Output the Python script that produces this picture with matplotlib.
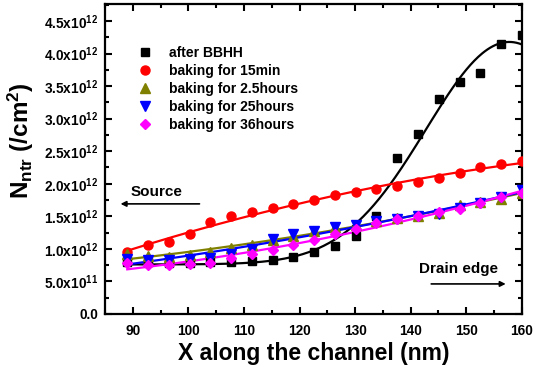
import matplotlib
matplotlib.use("Agg")
import matplotlib.pyplot as plt
from matplotlib.ticker import MultipleLocator, FuncFormatter
import numpy as np

plt.rcParams["font.family"] = ["Liberation Sans", "DejaVu Sans"]
plt.rcParams["font.weight"] = "bold"
plt.rcParams["mathtext.fontset"] = "custom"
plt.rcParams["mathtext.rm"] = "Liberation Sans:bold"
plt.rcParams["mathtext.bf"] = "Liberation Sans:bold"
plt.rcParams["mathtext.it"] = "Liberation Sans:bold"
plt.rcParams["mathtext.default"] = "bf"

# position along the channel (nm)
x_nm = np.linspace(89, 160, 20)

# trap density, units of 1e12 /cm^2
after_bbhh = [0.80, 0.79, 0.78, 0.78, 0.79, 0.79, 0.81, 0.83, 0.875, 0.95,
              1.05, 1.20, 1.51, 2.39, 2.77, 3.30, 3.57, 3.70, 4.14, 4.29]
bake_15min = [0.95, 1.06, 1.10, 1.23, 1.41, 1.50, 1.56, 1.62, 1.69, 1.75,
              1.82, 1.87, 1.92, 1.97, 2.02, 2.08, 2.17, 2.25, 2.31, 2.35]
bake_2p5h = [0.92, 0.89, 0.88, 0.90, 0.95, 1.01, 1.06, 1.13, 1.20, 1.28,
             1.33, 1.37, 1.42, 1.47, 1.50, 1.55, 1.68, 1.72, 1.77, 1.85]
bake_25h = [0.85, 0.83, 0.82, 0.84, 0.86, 0.92, 0.99, 1.15, 1.22, 1.28,
            1.33, 1.37, 1.43, 1.46, 1.50, 1.54, 1.63, 1.71, 1.80, 1.90]
bake_36h = [0.78, 0.75, 0.75, 0.76, 0.78, 0.86, 0.92, 0.98, 1.06, 1.13,
            1.22, 1.30, 1.40, 1.46, 1.50, 1.56, 1.61, 1.70, 1.80, 1.85]

labels = ["after BBHH", "baking for 15min", "baking for 2.5hours",
          "baking for 25hours", "baking for 36hours"]
colors = ["black", "#ff0000", "#808000", "#0000ff", "#ff00ff"]
markers = ["s", "o", "^", "v", "D"]
msizes = [5.5, 6.5, 6.5, 6.5, 5.5]


def gauss_fit(x, y):
    # grid search on centre/width, linear least squares for offset/amplitude
    x = np.asarray(x)
    y = np.asarray(y)
    best = None
    for xc in np.linspace(140, 175, 141):
        for w in np.linspace(5, 30, 101):
            g = np.exp(-(x - xc) ** 2 / (2 * w ** 2))
            M = np.column_stack([np.ones_like(x), g])
            coef, *_ = np.linalg.lstsq(M, y, rcond=None)
            err = np.sum((M @ coef - y) ** 2)
            if best is None or err < best[0]:
                best = (err, xc, w, coef)
    _, xc, w, coef = best
    return lambda t: coef[0] + coef[1] * np.exp(-(t - xc) ** 2 / (2 * w ** 2))


fig = plt.figure(figsize=(5.33, 3.71), dpi=100)
ax = fig.add_axes([0.197, 0.154, 0.782, 0.835])

xs = np.linspace(89, 160, 300)
series = [after_bbhh, bake_15min, bake_2p5h, bake_25h, bake_36h]
for i, ys in enumerate(series):
    if i == 0:
        fit = gauss_fit(x_nm, ys)
        fy = fit(xs)
    else:
        fy = np.polyval(np.polyfit(x_nm, ys, 2), xs)
    ax.plot(xs, fy, color=colors[i], lw=1.6, zorder=2)
for i, ys in enumerate(series):
    ax.plot(x_nm, ys, ls="none", marker=markers[i], ms=msizes[i],
            color=colors[i], label=labels[i], zorder=3)

ax.set_xlim(85, 160)
ax.set_ylim(0, 4.76)
ax.xaxis.set_major_locator(MultipleLocator(10))
ax.xaxis.set_minor_locator(MultipleLocator(5))
ax.yaxis.set_major_locator(MultipleLocator(0.5))
ax.yaxis.set_minor_locator(MultipleLocator(0.25))


def ylab(v, pos):
    if abs(v) < 1e-9:
        return "0.0"
    if v < 1:
        return r"$%.1f x10^{11}$" % (v * 10)
    return r"$%.1f x10^{12}$" % v


ax.yaxis.set_major_formatter(FuncFormatter(ylab))
ax.tick_params(which="both", direction="in", top=True, right=True,
               width=1.5, labelsize=9.8)
ax.tick_params(which="major", length=5)
ax.tick_params(which="minor", length=3)
ax.tick_params(axis="x", pad=7)
ax.tick_params(axis="y", pad=5)
for s in ax.spines.values():
    s.set_linewidth(1.6)

ax.set_xlabel("X along the channel (nm)", fontsize=16.5, fontweight="bold",
              labelpad=3)
ax.set_ylabel(r"N$_{ntr}$ (/cm$^{2}$)", fontsize=17.5, fontweight="bold")
ax.yaxis.set_label_coords(-0.165, 0.56)

ax.legend(loc="upper left", bbox_to_anchor=(0.067, 0.884), frameon=False,
          fontsize=10, handletextpad=1.2, labelspacing=0.3,
          handlelength=1.0, borderaxespad=0)

ax.annotate("", xy=(87.3, 1.69), xytext=(102.5, 1.69),
            arrowprops=dict(arrowstyle="-|>", color="black", lw=1.2,
                            mutation_scale=8))
ax.text(94.2, 1.87, "Source", ha="center", va="center", fontsize=11,
        fontweight="bold")
ax.annotate("", xy=(157.6, 0.46), xytext=(143.2, 0.46),
            arrowprops=dict(arrowstyle="-|>", color="black", lw=1.2,
                            mutation_scale=8))
ax.text(148.6, 0.69, "Drain edge", ha="center", va="center", fontsize=11,
        fontweight="bold")

fig.savefig("out.png", dpi=100)
